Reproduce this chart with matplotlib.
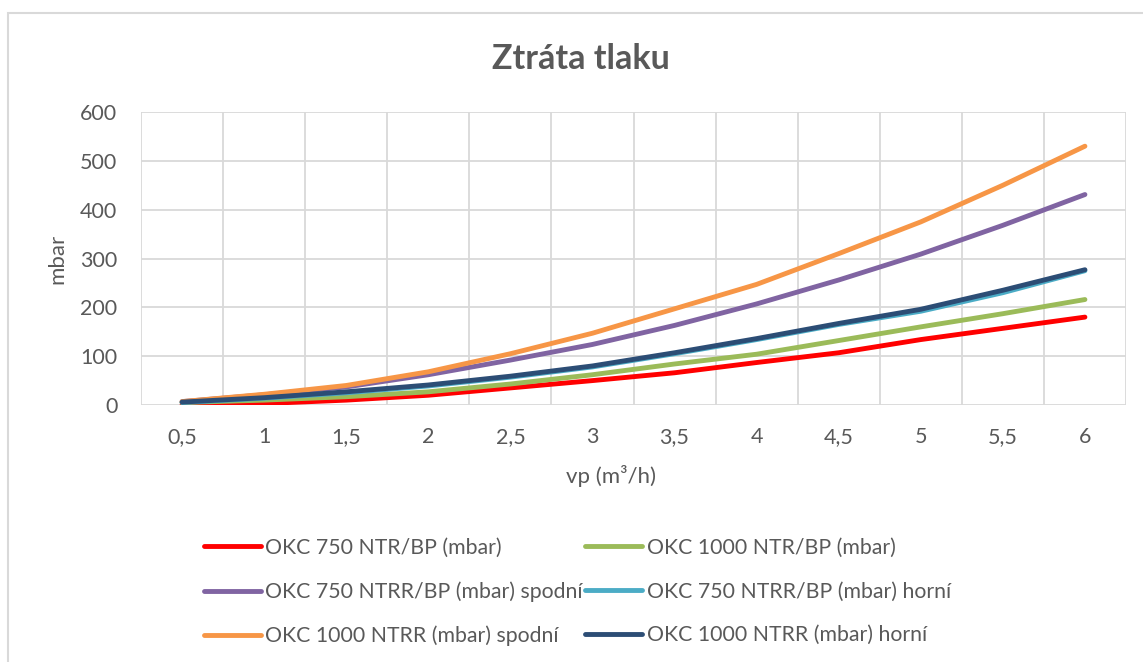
import matplotlib
matplotlib.use("Agg")
import matplotlib.pyplot as plt
from matplotlib.patches import Rectangle

plt.rcParams['font.family'] = ['Lato', 'DejaVu Sans']

kategorie = ["0,5", "1", "1,5", "2", "2,5", "3", "3,5", "4", "4,5", "5", "5,5", "6"]

okc750_ntr = [0, 3, 10, 20, 35, 50, 66, 87, 107, 134, 157, 180]
okc1000_ntr = [5, 10, 17, 27, 43, 62, 84, 104, 132, 160, 187, 216]
okc750_ntrr_spodni = [7, 21, 37, 62, 92, 124, 163, 207, 256, 309, 368, 431]
okc750_ntrr_horni = [5, 14, 25, 39, 57, 78, 105, 134, 165, 192, 230, 275]
okc1000_ntrr_spodni = [7, 22, 40, 68, 105, 147, 197, 247, 310, 375, 450, 530]
okc1000_ntrr_horni = [6, 15, 27, 41, 59, 80, 107, 136, 167, 196, 235, 277]

serie = [
    ("OKC 750 NTR/BP (mbar)", okc750_ntr, "#FF0000"),
    ("OKC 1000 NTR/BP (mbar)", okc1000_ntr, "#9BBB59"),
    ("OKC 750 NTRR/BP (mbar) spodní", okc750_ntrr_spodni, "#8064A2"),
    ("OKC 750 NTRR/BP (mbar) horní", okc750_ntrr_horni, "#4BACC6"),
    ("OKC 1000 NTRR (mbar) spodní", okc1000_ntrr_spodni, "#F79646"),
    ("OKC 1000 NTRR (mbar) horní", okc1000_ntrr_horni, "#2C4D75"),
]

sediva = "#595959"
mrizka = "#D9D9D9"

fig = plt.figure(figsize=(11.43, 6.62), dpi=100)
ax = fig.add_axes([0.1234, 0.3882, 0.8617, 0.4426])

cary = []
for nazev, hodnoty, barva in serie:
    c, = ax.plot(kategorie, hodnoty, color=barva, lw=3.5, label=nazev,
                 solid_capstyle="round", solid_joinstyle="round")
    cary.append(c)

ax.set_xlim(-0.5, len(kategorie) - 0.5)
ax.set_ylim(0, 600)
ax.set_yticks(range(0, 601, 100))
ax.set_xticks(range(len(kategorie)))
ax.set_xticks([i - 0.5 for i in range(len(kategorie) + 1)], minor=True)
ax.grid(True, which="minor", axis="x", color=mrizka, lw=1.3)
ax.grid(True, which="major", axis="y", color=mrizka, lw=1.3)
ax.set_axisbelow(True)
for s in ax.spines.values():
    s.set_visible(False)
ax.tick_params(which="both", length=0, labelsize=15.5, labelcolor=sediva)
ax.tick_params(axis="x", pad=16)
ax.tick_params(axis="y", pad=17)

ax.set_xlabel("vp (m³/h)", fontsize=16, color=sediva)
ax.xaxis.set_label_coords(0.477, -0.205)
ax.set_ylabel("mbar", fontsize=16, color=sediva)
ax.yaxis.set_label_coords(-0.075, 0.5)

fig.text(0.508, 1 - 69 / 662, "Ztráta tlaku", ha="center", va="baseline",
         fontsize=24.5, fontweight="bold", color=sediva)

# legenda po radcich jako v Excelu
poradi = [0, 2, 4, 1, 3, 5]
fig.legend([cary[i] for i in poradi], [serie[i][0] for i in poradi],
           loc="center", bbox_to_anchor=(0.505, 1 - 592 / 662), ncol=2, frameon=False,
           fontsize=15.3, labelcolor=sediva, handlelength=2.7, handletextpad=0.2,
           columnspacing=0.1, labelspacing=1.12, borderaxespad=0)

# ramecek grafu
fig.patches.append(Rectangle((8 / 1143, -0.1), 1.2, 1.1 - 13 / 662, transform=fig.transFigure,
                             fill=False, edgecolor=mrizka, lw=1.5))

fig.savefig("out.png", dpi=100)
